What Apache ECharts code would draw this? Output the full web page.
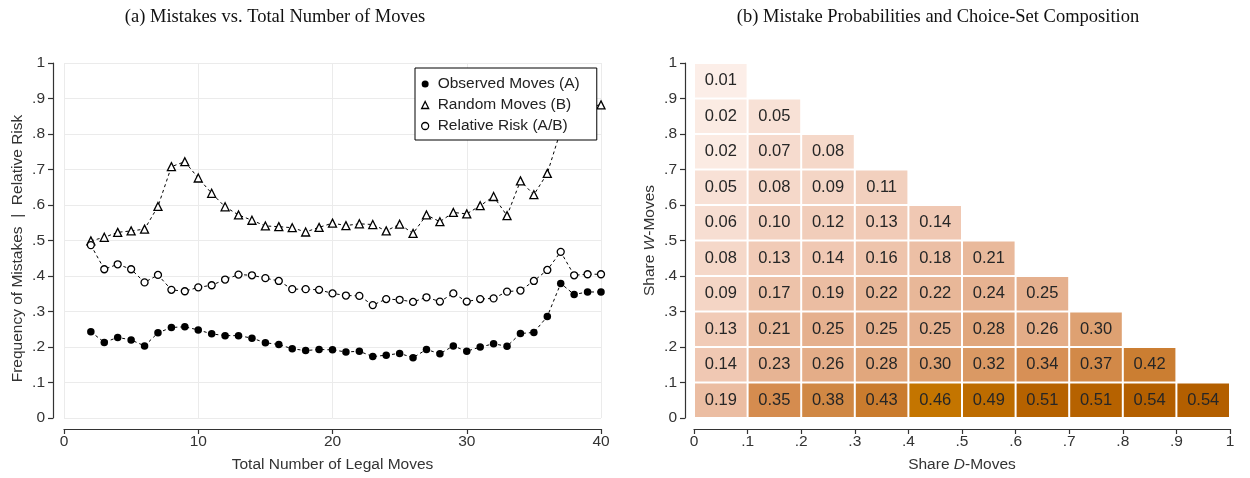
<!DOCTYPE html>
<html>
<head>
<meta charset="utf-8">
<script src="https://cdn.jsdelivr.net/npm/echarts@6/dist/echarts.min.js"></script>
<style>html,body{margin:0;padding:0;background:#fff}#c{width:1250px;height:478px}</style>
</head>
<body>
<div id="c"></div>
<script>
// ---------- Data: panel (a) ----------
const legalMoves = [2,3,4,5,6,7,8,9,10,11,12,13,14,15,16,17,18,19,20,21,22,23,24,25,26,27,28,29,30,31,32,33,34,35,36,37,38,39,40];
const observedMoves = [0.243,0.213,0.227,0.220,0.203,0.240,0.255,0.257,0.248,0.237,0.232,0.232,0.225,0.212,0.207,0.195,0.190,0.193,0.192,
  0.186,0.188,0.173,0.177,0.182,0.170,0.193,0.181,0.203,0.188,0.200,0.209,0.202,0.238,0.241,0.286,0.379,0.348,0.355,0.355];
const randomMoves = [0.499,0.509,0.523,0.527,0.532,0.596,0.708,0.722,0.676,0.633,0.595,0.572,0.557,0.541,0.539,0.536,0.524,0.537,0.549,
  0.542,0.547,0.545,0.527,0.546,0.520,0.572,0.553,0.579,0.575,0.598,0.624,0.570,0.668,0.629,0.689,0.810,0.866,0.877,0.882];
const relativeRisk = [0.487,0.419,0.433,0.419,0.382,0.403,0.361,0.357,0.368,0.374,0.390,0.404,0.402,0.394,0.386,0.363,0.363,0.361,0.351,
  0.345,0.344,0.318,0.335,0.333,0.327,0.340,0.328,0.351,0.328,0.335,0.337,0.356,0.359,0.386,0.417,0.468,0.402,0.405,0.405];
const seriesNames = ['Observed Moves (A)','Random Moves (B)','Relative Risk (A/B)'];
const shareTickLabels = ['0','.1','.2','.3','.4','.5','.6','.7','.8','.9','1'];

// ---------- Data: panel (b) ----------
const shareBins = [0,0.1,0.2,0.3,0.4,0.5,0.6,0.7,0.8,0.9];   // lower edge of each share bin
const binWidth = 0.1;
// row j = Share W-Moves bin (bottom to top), column i = Share D-Moves bin
const mistakeRow0 = [0.19,0.35,0.38,0.43,0.46,0.49,0.51,0.51,0.54,0.54];
const mistakeRow1 = [0.14,0.23,0.26,0.28,0.30,0.32,0.34,0.37,0.42];
const mistakeRow2 = [0.13,0.21,0.25,0.25,0.25,0.28,0.26,0.30];
const mistakeRow3 = [0.09,0.17,0.19,0.22,0.22,0.24,0.25];
const mistakeRow4 = [0.08,0.13,0.14,0.16,0.18,0.21];
const mistakeRow5 = [0.06,0.10,0.12,0.13,0.14];
const mistakeRow6 = [0.05,0.08,0.09,0.11];
const mistakeRow7 = [0.02,0.07,0.08];
const mistakeRow8 = [0.02,0.05];
const mistakeRow9 = [0.01];
const mistakeRows = [mistakeRow0,mistakeRow1,mistakeRow2,mistakeRow3,mistakeRow4,mistakeRow5,mistakeRow6,mistakeRow7,mistakeRow8,mistakeRow9];

// colour scale (value stop -> colour)
const colorStopValues = [0.00, 0.05, 0.10, 0.15, 0.20, 0.25, 0.30, 0.35, 0.38, 0.43, 0.46, 0.49, 0.51, 0.55];
const colorStopColors = ['#fdf1ec','#f8e1d6','#f3d2c1','#efc6b0','#eabb9e','#e5b08e','#dea172','#d58c4f','#d08844','#ca7c2e','#c47500','#bd6c00','#b66200','#b25e00'];

function hexToRgb(h){ return [parseInt(h.slice(1,3),16), parseInt(h.slice(3,5),16), parseInt(h.slice(5,7),16)]; }
function colorFor(v){
  const n = colorStopValues.length;
  if (v <= colorStopValues[0]) return colorStopColors[0];
  if (v >= colorStopValues[n-1]) return colorStopColors[n-1];
  for (let k = 0; k < n - 1; k++) {
    if (v <= colorStopValues[k+1]) {
      const t = (v - colorStopValues[k]) / (colorStopValues[k+1] - colorStopValues[k]);
      const a = hexToRgb(colorStopColors[k]), b = hexToRgb(colorStopColors[k+1]);
      const c = a.map((x, q) => Math.round(x + (b[q] - x) * t));
      return 'rgb(' + c.join(',') + ')';
    }
  }
}

const cellData = [];
mistakeRows.forEach((row, j) => row.forEach((v, i) => cellData.push([shareBins[i], shareBins[j], v])));

const SANS = '"Liberation Sans", Arial, sans-serif';
const SERIF = '"Liberation Serif", "DejaVu Serif", serif';
const AX = '#333';
const FS = 15.5;

const chart = echarts.init(document.getElementById('c'));

function tickFmt(v, idx){ return shareTickLabels[idx]; }

const axisBase = {
  axisLine: {show: true, onZero: false, lineStyle: {color: AX, width: 1.2}},
  axisTick: {show: true, length: 5, lineStyle: {color: AX, width: 1.2}},
  axisLabel: {color: '#333', fontSize: FS, fontFamily: SANS},
  nameTextStyle: {color: '#333', fontSize: FS, fontFamily: SANS},
  nameLocation: 'middle'
};

function renderCell(params, api) {
  const x0 = api.value(0), y0 = api.value(1), v = api.value(2);
  const tl = api.coord([x0, y0 + binWidth]);
  const br = api.coord([x0 + binWidth, y0]);
  const g = 1;
  return {
    type: 'rect',
    shape: {x: tl[0] + g, y: tl[1] + g, width: br[0] - tl[0] - 2 * g, height: br[1] - tl[1] - 2 * g},
    style: {fill: colorFor(v)},
    textContent: {style: {text: v.toFixed(2), fill: '#262626', fontSize: 16.5, fontFamily: SANS}},
    textConfig: {position: 'inside'}
  };
}

const lineBase = {
  type: 'line', xAxisIndex: 0, yAxisIndex: 0, symbolSize: 7.5,
  lineStyle: {color: '#000', width: 1, type: [3, 3]},
  emphasis: {disabled: true}
};

const richItalic = {i: {fontStyle: 'italic', fontSize: FS, fontFamily: SANS, color: '#333'}};

const option = {
  animation: false,
  backgroundColor: '#fff',
  title: [
    {text: '(a) Mistakes vs. Total Number of Moves', left: 275, top: 8, textAlign: 'center', padding: 0,
     textStyle: {fontFamily: SERIF, fontSize: 18.5, fontWeight: 'normal', color: '#111'}},
    {text: '(b) Mistake Probabilities and Choice-Set Composition', left: 938, top: 8, textAlign: 'center', padding: 0,
     textStyle: {fontFamily: SERIF, fontSize: 18.5, fontWeight: 'normal', color: '#111'}}
  ],
  legend: {
    orient: 'vertical', left: 415, top: 68,
    padding: [8, 17, 6, 6], itemGap: 5, itemWidth: 7, itemHeight: 7,
    backgroundColor: '#fff', borderColor: '#000', borderWidth: 1, borderRadius: 0,
    textStyle: {fontFamily: SANS, fontSize: FS, color: '#222', padding: [0, 0, 0, 4]},
    data: [
      {name: seriesNames[0], icon: 'circle', itemStyle: {color: '#000', borderWidth: 0}},
      {name: seriesNames[1], icon: 'triangle', itemStyle: {color: '#fff', borderColor: '#000', borderWidth: 1.3}},
      {name: seriesNames[2], icon: 'circle', itemStyle: {color: '#fff', borderColor: '#000', borderWidth: 1.3}}
    ]
  },
  grid: [
    {left: 64, top: 63, width: 537, height: 357},
    {left: 694, top: 63, width: 536, height: 357}
  ],
  xAxis: [
    Object.assign({}, axisBase, {
      gridIndex: 0, type: 'value', min: 0, max: 40, interval: 10, offset: 11,
      name: 'Total Number of Legal Moves', nameGap: 28,
      axisLabel: Object.assign({}, axisBase.axisLabel, {margin: 5}),
      splitLine: {show: true, lineStyle: {color: '#ebebeb', width: 1}}
    }),
    Object.assign({}, axisBase, {
      gridIndex: 1, type: 'value', min: 0, max: 1, interval: 0.1, offset: 11,
      name: 'Share {i|D}-Moves', nameGap: 28,
      nameTextStyle: Object.assign({}, axisBase.nameTextStyle, {rich: richItalic}),
      axisLabel: Object.assign({}, axisBase.axisLabel, {margin: 5, formatter: tickFmt}),
      splitLine: {show: false}
    })
  ],
  yAxis: [
    Object.assign({}, axisBase, {
      gridIndex: 0, type: 'value', min: 0, max: 1, interval: 0.1, offset: 11,
      name: 'Frequency of Mistakes  |  Relative Risk', nameGap: 27,
      nameTextStyle: Object.assign({}, axisBase.nameTextStyle, {padding: [0, 16, 0, 0]}),
      axisLabel: Object.assign({}, axisBase.axisLabel, {margin: 8, formatter: tickFmt}),
      splitLine: {show: true, lineStyle: {color: '#ebebeb', width: 1}}
    }),
    Object.assign({}, axisBase, {
      gridIndex: 1, type: 'value', min: 0, max: 1, interval: 0.1, offset: 9,
      name: 'Share {i|W}-Moves', nameGap: 27,
      nameTextStyle: Object.assign({}, axisBase.nameTextStyle, {rich: richItalic}),
      axisLabel: Object.assign({}, axisBase.axisLabel, {margin: 8, formatter: tickFmt}),
      splitLine: {show: false}
    })
  ],
  series: [
    Object.assign({}, lineBase, {
      name: seriesNames[0], symbol: 'circle',
      itemStyle: {color: '#000'},
      data: legalMoves.map((m, k) => [m, observedMoves[k]])
    }),
    Object.assign({}, lineBase, {
      name: seriesNames[1], symbol: 'triangle', symbolSize: 8,
      itemStyle: {color: '#fff', borderColor: '#000', borderWidth: 1.3},
      data: legalMoves.map((m, k) => [m, randomMoves[k]])
    }),
    Object.assign({}, lineBase, {
      name: seriesNames[2], symbol: 'circle', symbolSize: 7,
      itemStyle: {color: '#fff', borderColor: '#000', borderWidth: 1.3},
      data: legalMoves.map((m, k) => [m, relativeRisk[k]])
    }),
    {
      type: 'custom', xAxisIndex: 1, yAxisIndex: 1,
      encode: {x: 0, y: 1},
      renderItem: renderCell,
      data: cellData
    }
  ]
};
chart.setOption(option);
</script>
</body>
</html>
